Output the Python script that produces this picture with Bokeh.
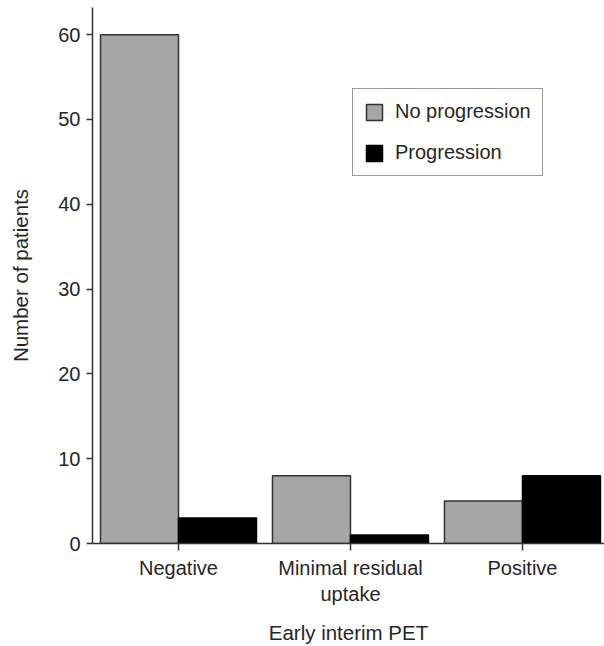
from bokeh.plotting import figure
from bokeh.models import ColumnDataSource, Range1d, FixedTicker, Legend, LegendItem
from bokeh.embed import file_html
from bokeh.resources import INLINE
import numpy as np

categories = ["Negative", "Minimal residual\nuptake", "Positive"]
no_progression = [60, 8, 5]
progression = [3, 1, 8]
y_ticks = [0, 10, 20, 30, 40, 50, 60]

FONT = "Liberation Sans"
TXT = "#262626"
BAR_W = 0.4535

idx = np.arange(len(categories))
src_np = ColumnDataSource(dict(x=idx - BAR_W / 2, top=no_progression))
src_p = ColumnDataSource(dict(x=idx + BAR_W / 2, top=progression))

p = figure(width=604, height=646, output_backend="svg", toolbar_location=None,
           x_range=Range1d(-0.5, 2.477), y_range=Range1d(0, 63.2),
           min_border_left=92, min_border_right=0, min_border_top=7, min_border_bottom=101)
p.outline_line_color = None
p.xgrid.grid_line_color = None
p.ygrid.grid_line_color = None
p.background_fill_color = "white"
p.border_fill_color = "white"

r1 = p.vbar(x="x", top="top", width=BAR_W, bottom=0, source=src_np,
            fill_color="#a6a6a6", line_color="#333333", line_width=1.5)
r2 = p.vbar(x="x", top="top", width=BAR_W, bottom=0, source=src_p,
            fill_color="#000000", line_color="#000000", line_width=1.5)

# axes
p.xaxis.ticker = FixedTicker(ticks=list(idx))
p.xaxis.major_label_overrides = {int(i): c for i, c in zip(idx, categories)}
p.yaxis.ticker = FixedTicker(ticks=y_ticks)
for ax in (p.xaxis[0], p.yaxis[0]):
    ax.axis_line_color = "#333333"
    ax.axis_line_width = 1.5
    ax.major_tick_line_color = "#333333"
    ax.major_tick_line_width = 1.5
    ax.major_tick_in = 0
    ax.minor_tick_line_color = None
    ax.major_label_text_font = FONT
    ax.major_label_text_font_size = "20px"
    ax.major_label_text_color = TXT
    ax.axis_label_text_font = FONT
    ax.axis_label_text_font_size = "20.5px"
    ax.axis_label_text_font_style = "normal"
    ax.axis_label_text_color = TXT

p.xaxis.major_tick_out = 7
p.xaxis.major_label_standoff = 6
p.xaxis.axis_label = "Early interim PET"
p.xaxis.axis_label_standoff = 13
p.yaxis.major_tick_out = 6
p.yaxis.major_label_standoff = 6
p.yaxis.axis_label = "Number of patients"
p.yaxis.axis_label_standoff = 23

legend = Legend(items=[LegendItem(label="No progression", renderers=[r1]),
                       LegendItem(label="Progression", renderers=[r2])],
                location=(260, 367))
legend.border_line_color = "#333333"
legend.border_line_width = 1.5
legend.background_fill_alpha = 1
legend.padding = 11
legend.margin = 0
legend.spacing = 18
legend.glyph_width = 20
legend.glyph_height = 20
legend.label_height = 20
legend.label_standoff = 11
legend.label_text_font = FONT
legend.label_text_font_size = "20px"
legend.label_text_color = TXT
p.add_layout(legend, "center")

open("out.html", "w").write(file_html(p, INLINE))
